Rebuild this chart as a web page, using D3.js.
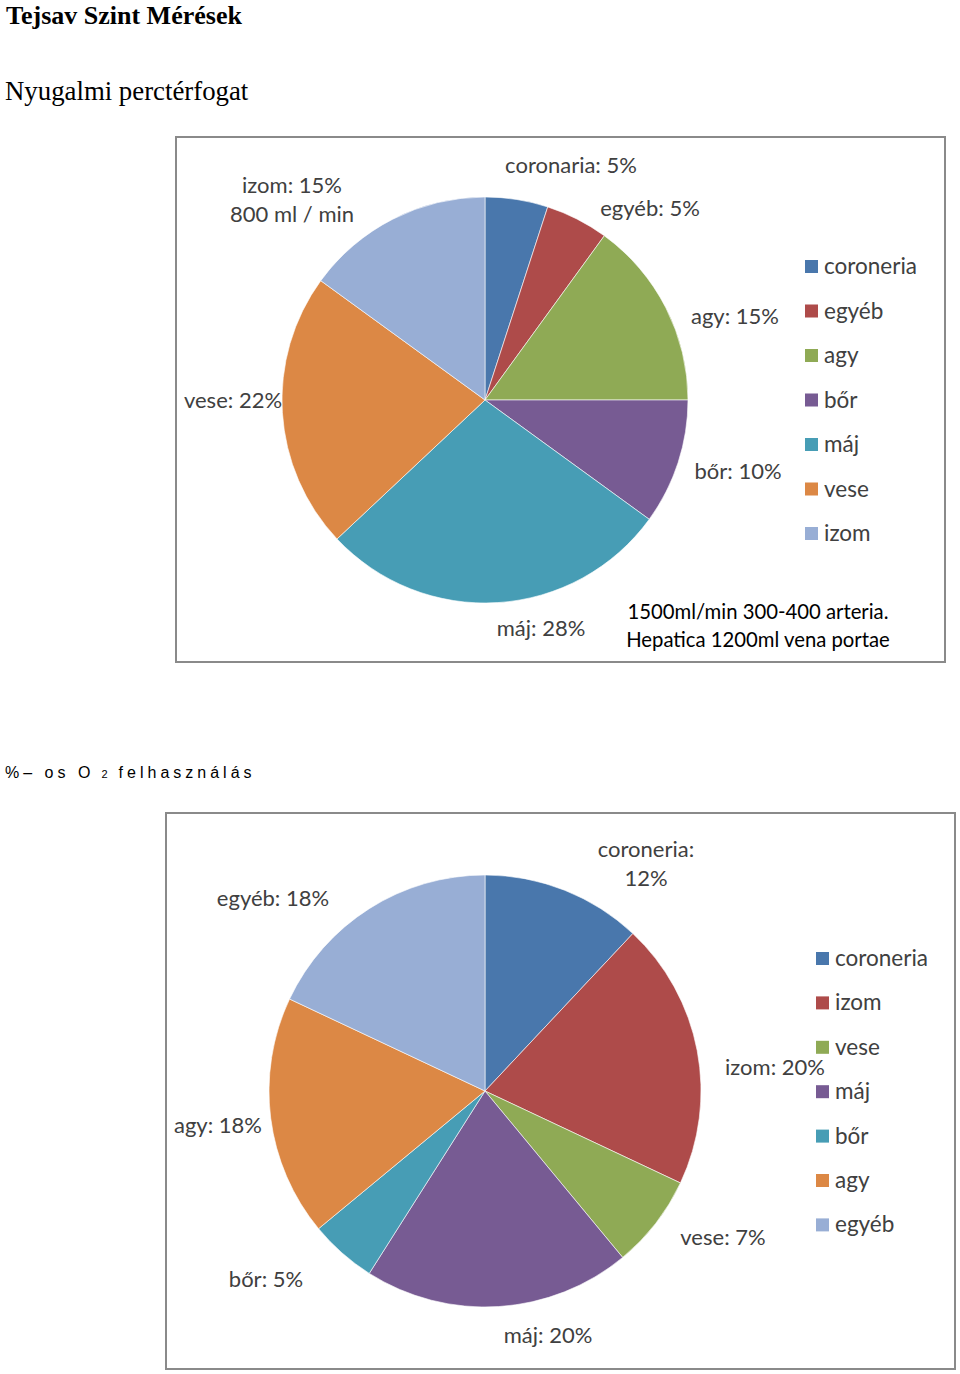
<!DOCTYPE html>
<html><head><meta charset="utf-8">
<script src="https://cdn.jsdelivr.net/npm/d3@7/dist/d3.min.js"></script>
<style>
body{margin:0;background:#fff;}
svg{display:block;}
</style></head>
<body>
<svg id="c" width="960" height="1374"></svg>
<script>
// ---- data ----
const cats1 = ["coroneria","egyéb","agy","bőr","máj","vese","izom"];
const vals1 = [5,5,15,10,28,22,15];
const labels1 = ["coronaria: 5%","egyéb: 5%","agy: 15%","bőr: 10%","máj: 28%","vese: 22%","izom: 15%\n800 ml / min"];
const cats2 = ["coroneria","izom","vese","máj","bőr","agy","egyéb"];
const vals2 = [12,20,7,20,5,18,18];
const labels2 = ["coroneria:\n12%","izom: 20%","vese: 7%","máj: 20%","bőr: 5%","agy: 18%","egyéb: 18%"];
const colors = ["#4977AC","#AE4B4A","#8FAA55","#775B93","#479DB5","#DC8845","#98AED5"];
const note1 = ["1500ml/min 300-400 arteria.","Hepatica 1200ml vena  portae"];

const svg = d3.select("#c");
const F = "Lato, 'Open Sans', sans-serif";

svg.append("text").attr("x",6).attr("y",24).attr("font-family","'Liberation Serif',serif")
  .attr("font-weight","bold").attr("font-size",26).text("Tejsav Szint Mérések");
svg.append("text").attr("x",5).attr("y",100).attr("font-family","'Liberation Serif',serif")
  .attr("font-size",26.8).text("Nyugalmi perctérfogat");
const sub = svg.append("text").attr("x",5).attr("y",778).attr("font-family","'Liberation Sans',Arial,sans-serif")
  .attr("font-size",16).attr("letter-spacing",4);
sub.append("tspan").text("%– os  O");
sub.append("tspan").attr("font-size",11).text(" 2 ");
sub.append("tspan").text("felhasználás");

function chart(cfg){
  const g = svg.append("g");
  g.append("rect").attr("x",cfg.frame[0]).attr("y",cfg.frame[1]).attr("width",cfg.frame[2]).attr("height",cfg.frame[3])
    .attr("fill","#fff").attr("stroke","#8a8a8a").attr("stroke-width",2);
  const pie = d3.pie().sort(null).value(d=>d)(cfg.vals);
  const arc = d3.arc().innerRadius(0).outerRadius(cfg.r);
  const pg = g.append("g").attr("transform",`translate(${cfg.cx},${cfg.cy})`);
  pg.selectAll("path").data(pie).join("path").attr("d",arc)
    .attr("fill",(d,i)=>colors[i]).attr("stroke","#fff").attr("stroke-width",0.6);
  cfg.labels.forEach((t,i)=>{
    const lines=t.split("\n");
    const p=cfg.lpos[i];
    const tx=g.append("text").attr("font-family",F).attr("font-size",22).attr("fill","#404040")
      .attr("text-anchor","middle");
    lines.forEach((l,j)=>tx.append("tspan").attr("x",p[0]).attr("y",p[1]+8+j*29-(lines.length-1)*14.5).text(l));
  });
  const lg = g.append("g");
  cfg.cats.forEach((c,i)=>{
    const y = cfg.leg[1]+i*cfg.leg[2];
    lg.append("rect").attr("x",cfg.leg[0]).attr("y",y-6).attr("width",13).attr("height",13).attr("fill",colors[i]);
    lg.append("text").attr("x",cfg.leg[0]+19).attr("y",y+8).attr("font-family",F).attr("font-size",22.5)
      .attr("fill","#404040").text(c);
  });
  return g;
}

const g1 = chart({frame:[176,137,769,525],cx:485,cy:400,r:203,vals:vals1,labels:labels1,cats:cats1,
  lpos:[[571,165],[650,208],[735,316],[738,471],[541,628],[233,400],[292,199]],leg:[805,266,44.5]});
note1.forEach((l,j)=>g1.append("text").attr("x",758).attr("y",619+j*28).attr("text-anchor","middle")
  .attr("font-family",F).attr("font-size",20.3).attr("fill","#000").text(l));

chart({frame:[166,813,789,556],cx:485,cy:1091,r:216,vals:vals2,labels:labels2,cats:cats2,
  lpos:[[646,863],[775,1067],[723,1237],[548,1335],[266,1279],[218,1125],[273,898]],leg:[816,958,44.4]});
</script>
</body></html>
